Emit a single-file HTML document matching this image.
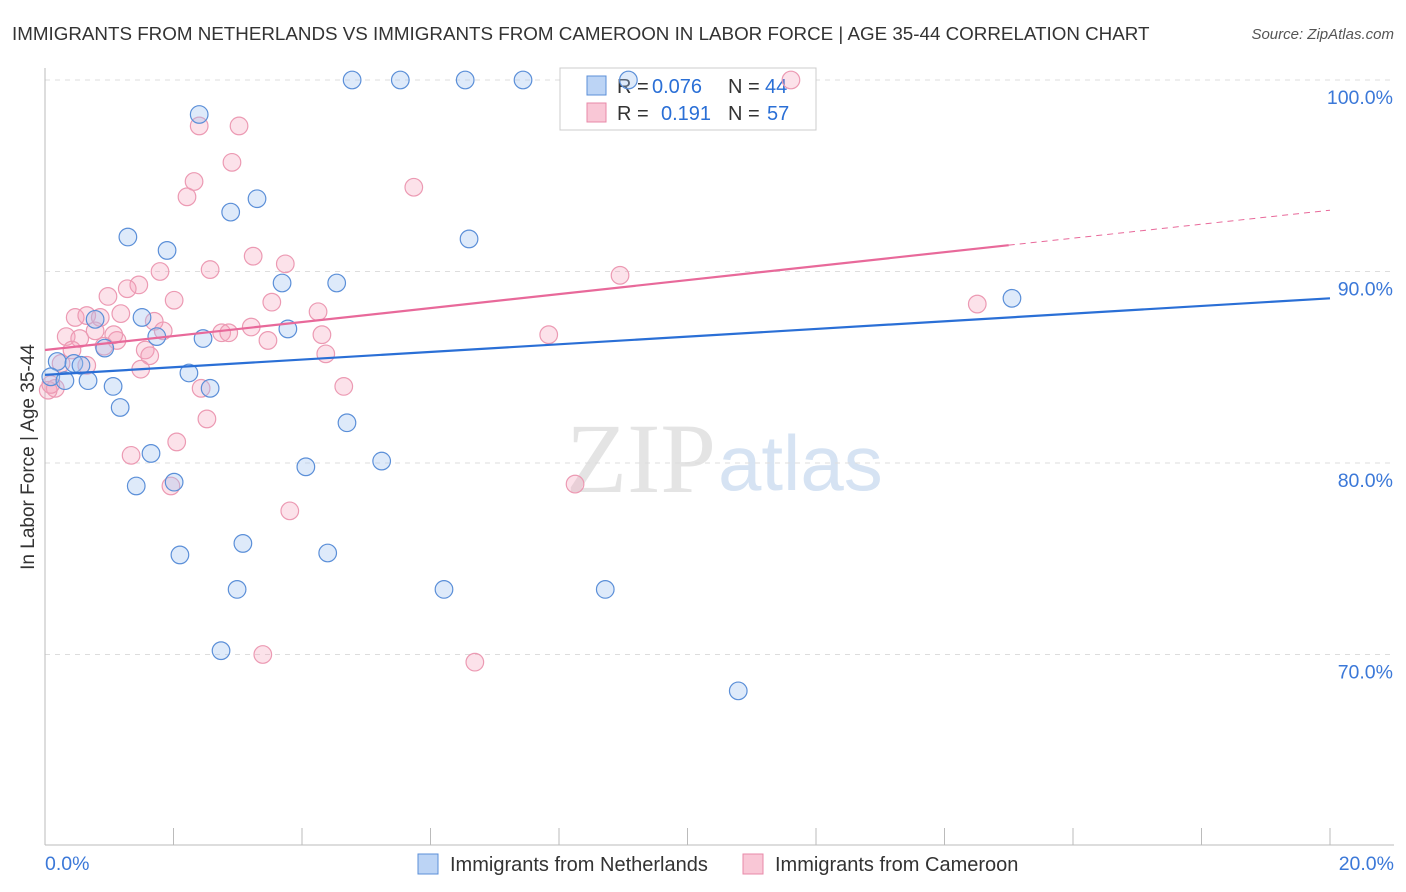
<!DOCTYPE html>
<html><head><meta charset="utf-8">
<style>
body{margin:0;background:#fff;font-family:"Liberation Sans",sans-serif;}
svg{display:block}
</style></head>
<body>
<svg id="c" width="1406" height="892">
<text x="12" y="40" font-size="18.8" fill="#333">IMMIGRANTS FROM NETHERLANDS VS IMMIGRANTS FROM CAMEROON IN LABOR FORCE | AGE 35-44 CORRELATION CHART</text>
<text x="1394" y="39" font-size="15" fill="#555" text-anchor="end" font-style="italic">Source: ZipAtlas.com</text>
<text x="716" y="492" font-size="100" fill="#e4e4e4" text-anchor="end" font-family="Liberation Serif,serif">ZIP</text>
<text x="718" y="490" font-size="78" fill="#d6e3f3">atlas</text>
<text transform="translate(34,457) rotate(-90)" font-size="19" fill="#333" text-anchor="middle">In Labor Force | Age 35-44</text>
<g id="grid"></g>
<g>
<rect x="560" y="68" width="256" height="62" fill="#fff" stroke="#ccc"/>
<rect x="587" y="76" width="19" height="19" fill="#bcd4f5" stroke="#5b8fd8"/>
<rect x="587" y="103" width="19" height="19" fill="#f9c7d6" stroke="#e88aa8"/>
<text x="617" y="93" font-size="20" fill="#333">R =</text>
<text x="652" y="93" font-size="20" fill="#2a6fd6">0.076</text>
<text x="728" y="93" font-size="20" fill="#333">N =</text>
<text x="765" y="93" font-size="20" fill="#2a6fd6">44</text>
<text x="617" y="120" font-size="20" fill="#333">R =</text>
<text x="661" y="120" font-size="20" fill="#2a6fd6">0.191</text>
<text x="728" y="120" font-size="20" fill="#333">N =</text>
<text x="767" y="120" font-size="20" fill="#2a6fd6">57</text>
</g>
<g id="pts"></g><g id="lines"></g>
<g>
<rect x="418" y="854" width="20" height="20" fill="#bcd4f5" stroke="#5b8fd8"/>
<text x="450" y="871" font-size="20" fill="#333">Immigrants from Netherlands</text>
<rect x="743" y="854" width="20" height="20" fill="#f9c7d6" stroke="#e88aa8"/>
<text x="775" y="871" font-size="20" fill="#333">Immigrants from Cameroon</text>
</g>
</svg>
<script>
const yTicks=[100,90,80,70];
const yTickLabels=["100.0%","90.0%","80.0%","70.0%"];
const xTickLabels=["0.0%","20.0%"];
const blueX=[4.78,5.53,6.54,7.44,9.08,2.40,3.30,2.89,1.29,1.90,6.60,3.69,4.54,15.05,0.78,1.51,3.78,1.74,2.46,0.93,0.19,0.45,0.56,0.09,0.31,0.67,1.06,2.24,2.57,1.17,4.70,1.65,1.42,2.01,4.06,5.24,2.10,3.08,4.40,2.99,6.21,8.72,2.74,10.79];
const blueY=[100,100,100,100,100,98.2,93.8,93.1,91.8,91.1,91.7,89.4,89.4,88.6,87.5,87.6,87.0,86.6,86.5,86.0,85.3,85.2,85.1,84.5,84.3,84.3,84.0,84.7,83.9,82.9,82.1,80.5,78.8,79.0,79.8,80.1,75.2,75.8,75.3,73.4,73.4,73.4,70.2,68.1];
const pinkX=[11.61,2.40,3.02,2.91,2.32,2.21,5.74,3.24,3.74,1.79,2.57,8.95,1.46,1.28,0.98,2.01,3.53,14.51,0.47,0.65,0.86,1.18,1.70,4.25,0.78,1.84,2.75,3.21,0.33,0.54,1.12,1.07,0.92,3.47,4.31,7.84,0.42,1.56,1.63,4.37,0.65,0.25,1.49,0.16,0.05,2.43,4.65,2.52,2.05,1.34,1.96,8.25,3.81,3.39,6.69,0.09,2.86];
const pinkY=[100,97.6,97.6,95.7,94.7,93.9,94.4,90.8,90.4,90.0,90.1,89.8,89.3,89.1,88.7,88.5,88.4,88.3,87.6,87.7,87.6,87.8,87.4,87.9,86.9,86.9,86.8,87.1,86.6,86.5,86.4,86.7,86.1,86.4,86.7,86.7,85.9,85.9,85.6,85.7,85.1,85.2,84.9,83.9,83.8,83.9,84.0,82.3,81.1,80.4,78.8,78.9,77.5,70.0,69.6,84.1,86.8];
const blueTrend=[84.6,88.6];
const pinkTrend=[85.9,93.2];
const pinkSolidEnd=15.0;
const X=v=>45+v/20*1285, Y=v=>80+(100-v)*19.15;
const NS="http://www.w3.org/2000/svg";
function mk(t,a,p){const e=document.createElementNS(NS,t);for(const k in a)e.setAttribute(k,a[k]);p.appendChild(e);return e;}
const g=document.getElementById('grid');
yTicks.forEach((t,i)=>{
 const l=mk('line',{x1:45,x2:1394,y1:Y(t),y2:Y(t),stroke:'#ddd','stroke-dasharray':'5,5'},g);
 
 
 const tx=mk('text',{x:1393,y:Y(t)+24,'font-size':19.5,fill:'#3b78d8','text-anchor':'end'},g);
 tx.textContent=yTickLabels[i];
 
 
});
mk('line',{x1:45,x2:45,y1:68,y2:845,stroke:'#bbb'},g);
mk('line',{x1:45,x2:1394,y1:845,y2:845,stroke:'#bbb'},g);
for(let i=0;i<=10;i++){const x=X(i*2);const t=mk('line',{x1:x,x2:x,y1:828,y2:845,stroke:'#bbb'},g);
 
 }
[[0,45,'start'],[20,1394,'end']].forEach((d,i)=>{const t=mk('text',{x:d[1],y:870,'font-size':19.5,fill:'#3b78d8','text-anchor':d[2]},g);t.textContent=xTickLabels[i];
 
 });
const p=document.getElementById('pts');
pinkX.forEach((x,i)=>{const c=mk('circle',{cx:X(x),cy:Y(pinkY[i]),r:8.8,fill:'rgba(244,160,185,0.3)',stroke:'#ec9ab3','stroke-width':1.2},p);
 
 });
blueX.forEach((x,i)=>{const c=mk('circle',{cx:X(x),cy:Y(blueY[i]),r:8.8,fill:'rgba(160,195,240,0.35)',stroke:'#5b8fd8','stroke-width':1.2},p);
 
 });
const L=document.getElementById('lines');
const bl=mk('line',{x1:X(0),y1:Y(blueTrend[0]),x2:X(20),y2:Y(blueTrend[1]),stroke:'#2a6fd6','stroke-width':2.2},L);


const pm=pinkTrend[0]+(pinkTrend[1]-pinkTrend[0])*pinkSolidEnd/20;
const pl=mk('line',{x1:X(0),y1:Y(pinkTrend[0]),x2:X(pinkSolidEnd),y2:Y(pm),stroke:'#e8699a','stroke-width':2.2},L);


const pd=mk('line',{x1:X(pinkSolidEnd),y1:Y(pm),x2:X(20),y2:Y(pinkTrend[1]),stroke:'#e8699a','stroke-width':1,'stroke-dasharray':'6,5'},L);


</script>
</body></html>
